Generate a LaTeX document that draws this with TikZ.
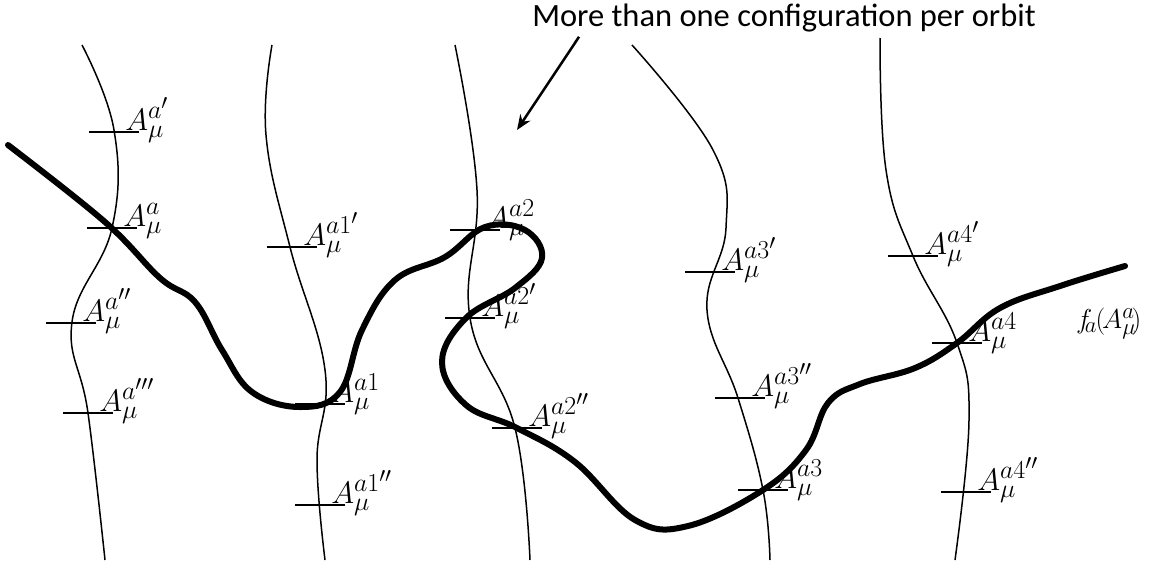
\documentclass[tikz,border=0pt]{standalone}
\usepackage{fontspec}
\setsansfont{Carlito}
\usetikzlibrary{arrows.meta}
\tikzset{
  orbit/.style={line width=1.5pt},
  gauge/.style={line width=6pt, line cap=round, line join=round},
  tickmark/.style={line width=1.6pt},
  albl/.style={anchor=base west, inner sep=0pt, scale=1.25, font=\fontsize{24.88}{28}\selectfont},
  note/.style={anchor=base, inner sep=0pt, font=\sffamily\fontsize{32.5}{36}\selectfont},
  pointer/.style={-{Stealth[length=15pt,width=12pt]}, line width=2.5pt}
}

\begin{document}
\begin{tikzpicture}[x=1pt, y=-1pt]
  \useasboundingbox (0,0) rectangle (1155,570);

  % gauge orbits
  \draw[orbit] plot[smooth, tension=0.7] coordinates
    {(82,45) (114,130) (112,228) (72,322) (88,413) (105,560)};
  \draw[orbit] plot[smooth, tension=0.7] coordinates
    {(272,45) (266,135) (290,247) (325,370) (317,460) (325,560)};
  \draw[orbit] plot[smooth, tension=0.7] coordinates
    {(455,45) (477,190) (470,318) (515,428) (530,560)};
  \draw[orbit] plot[smooth, tension=0.7] coordinates
    {(632,45) (713,150) (726,228) (707,310) (738,398) (763,490) (770,560)};
  \draw[orbit] plot[smooth, tension=0.7] coordinates
    {(880,38) (886,170) (913,256) (957,343) (969,420) (955,560)};

  % gauge-fixing curve
  \draw[gauge] plot[smooth, tension=0.65] coordinates
    {(8,145) (105,222) (160,278) (195,302) (222,350) (252,392) (300,407) (340,392)
     (362,330) (395,280) (445,257) (485,227) (525,230) (542,258) (515,288) (466,318)
     (442,362) (466,405) (517,428) (575,462) (635,520) (688,526) (763,490) (806,450)
     (828,403) (860,384) (915,368) (957,343) (1000,308) (1060,286) (1125,266)};

  % crossing points with their configurations
  \foreach \cx/\cy/\lab/\nm in {114/132/{a'}/oa, 112/228/{a}/ob, 71/323/{a''}/oc, 88/413/{a'''}/od,
      292/247/{a1'}/pa, 320/404/{a1}/pb, 320/505/{a1''}/pc,
      475/230/{a2}/qa, 470/318/{a2'}/qb, 517/428/{a2''}/qc,
      710/272/{a3'}/ra, 740/398/{a3''}/rb, 763/490/{a3}/rc,
      913/256/{a4'}/sa, 957/343/{a4}/sb, 966/492/{a4''}/sc}{
    \coordinate (\nm) at (\cx,\cy);
    \draw[tickmark] ([xshift=-25pt]\nm) -- ([xshift=25pt]\nm);
    \node[albl] (\nm-l) at ([xshift=11pt,yshift=2pt]\nm) {$A_\mu^{\lab}$};
  }

  \node[albl, scale=0.88] (fa) at (1076,328)
    {$f\mkern-5mu_{a}\mkern-1mu(\mkern-2mu A_\mu^{a}\mkern-3mu)$};

  % note with arrow
  \node[note] (title) at (784,27) {More than one configuration per orbit};
  \coordinate (tip) at (517,130);
  \draw[pointer] ([xshift=47pt,yshift=-4pt]title.south west) -- (tip);
\end{tikzpicture}
\end{document}
